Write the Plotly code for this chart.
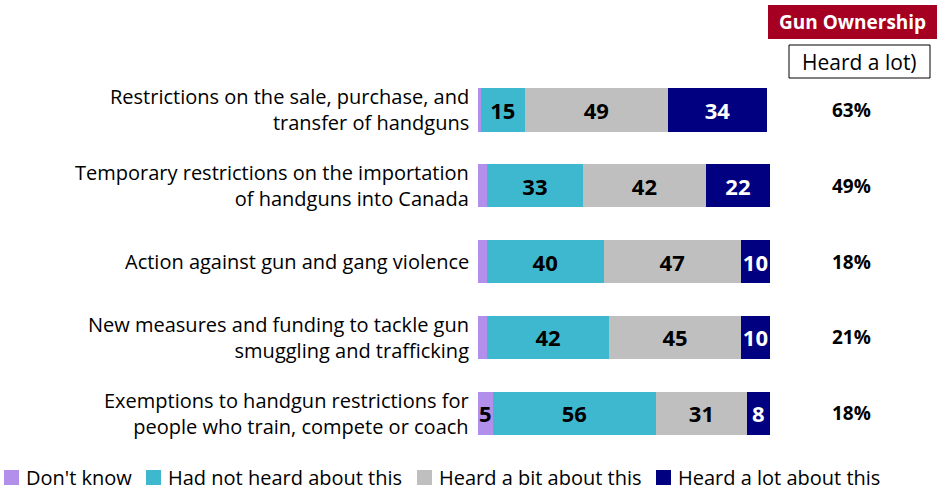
import plotly.graph_objects as go

W, H = 938, 492
PLOT_TOP, PLOT_BOTTOM = 72, 451

categories = [
    "Restrictions on the sale, purchase, and<br>transfer of handguns",
    "Temporary restrictions on the importation<br>of handguns into Canada",
    "Action against gun and gang violence",
    "New measures and funding to tackle gun<br>smuggling and trafficking",
    "Exemptions to handgun restrictions for<br>people who train, compete or coach",
]
dont_know = [1, 3, 3, 3, 5]
not_heard = [15, 33, 40, 42, 56]
heard_bit = [49, 42, 47, 45, 31]
heard_lot = [34, 22, 10, 10, 8]
gun_owners = ["63%", "49%", "18%", "21%", "18%"]

series = [
    ("Don't know", dont_know, "#B18FEA", "black"),
    ("Had not heard about this", not_heard, "#3EB8CF", "black"),
    ("Heard a bit about this", heard_bit, "#BFBFBF", "black"),
    ("Heard a lot about this", heard_lot, "#000080", "white"),
]

FONT = "Open Sans"
LABEL_SIZE = 20

# legend swatch left edges (px) across the bottom row
legend_x = [4, 146, 417, 656]
LEGEND_Y = 477


def py(pix):
    """Convert a pixel row to paper y coordinate."""
    return (PLOT_BOTTOM - pix) / (PLOT_BOTTOM - PLOT_TOP)


def px(pix):
    return pix / W


fig = go.Figure()
ycats = list(range(len(categories)))
for name, vals, color, tcolor in series:
    fig.add_trace(go.Bar(
        name=name,
        y=ycats,
        x=vals,
        orientation="h",
        marker=dict(color=color, line=dict(width=0)),
        text=[str(v) if v >= 5 else "" for v in vals],
        textposition="inside",
        insidetextanchor="middle",
        textangle=0,
        constraintext="none",
        textfont=dict(family=FONT, size=22, color=tcolor, weight="bold"),
        width=0.57,
        hoverinfo="skip",
        showlegend=False,
    ))

annotations = []
shapes = []
for i, cat in enumerate(categories):
    annotations.append(dict(
        x=px(471), y=i, xref="paper", yref="y", text=cat,
        showarrow=False, xanchor="right", yanchor="middle", align="right",
        font=dict(family=FONT, size=LABEL_SIZE, color="black"),
    ))
    annotations.append(dict(
        x=px(851), y=i, xref="paper", yref="y", text=gun_owners[i],
        showarrow=False, xanchor="center", yanchor="middle",
        font=dict(family=FONT, size=19, color="black", weight="bold"),
    ))

# Header boxes in the top-right corner
shapes.append(dict(type="rect", xref="paper", yref="paper",
                   x0=px(768), x1=px(937), y0=py(39), y1=py(5),
                   fillcolor="#A50021", line=dict(width=0), layer="below"))
shapes.append(dict(type="rect", xref="paper", yref="paper",
                   x0=px(789), x1=px(930), y0=py(78), y1=py(45),
                   fillcolor="white", line=dict(color="black", width=1), layer="below"))
annotations.append(dict(
    x=px(852), y=py(22), xref="paper", yref="paper", text="Gun Ownership",
    showarrow=False, xanchor="center", yanchor="middle",
    font=dict(family=FONT, size=19, color="white", weight="bold"),
))
annotations.append(dict(
    x=px(859), y=py(62), xref="paper", yref="paper", text="Heard a lot)",
    showarrow=False, xanchor="center", yanchor="middle",
    font=dict(family=FONT, size=21, color="black"),
))

# Legend row: coloured swatch followed by the series name
for (name, _, color, _), lx in zip(series, legend_x):
    shapes.append(dict(type="rect", xref="paper", yref="paper",
                       x0=px(lx), x1=px(lx + 15),
                       y0=py(LEGEND_Y + 8), y1=py(LEGEND_Y - 7),
                       fillcolor=color, line=dict(width=0)))
    annotations.append(dict(
        x=px(lx + 20), y=py(LEGEND_Y), xref="paper", yref="paper", text=name,
        showarrow=False, xanchor="left", yanchor="middle",
        font=dict(family=FONT, size=LABEL_SIZE, color="black"),
    ))

fig.update_layout(
    barmode="stack",
    width=W, height=H,
    margin=dict(l=0, r=0, t=PLOT_TOP, b=H - PLOT_BOTTOM),
    plot_bgcolor="white", paper_bgcolor="white",
    font=dict(family=FONT, size=LABEL_SIZE, color="black"),
    xaxis=dict(domain=[px(478), px(770)], range=[0, 100], visible=False, fixedrange=True),
    yaxis=dict(range=[len(categories) - 0.5, -0.5], visible=False, fixedrange=True),
    showlegend=False,
    annotations=annotations,
    shapes=shapes,
)

fig.write_html("out.html")
